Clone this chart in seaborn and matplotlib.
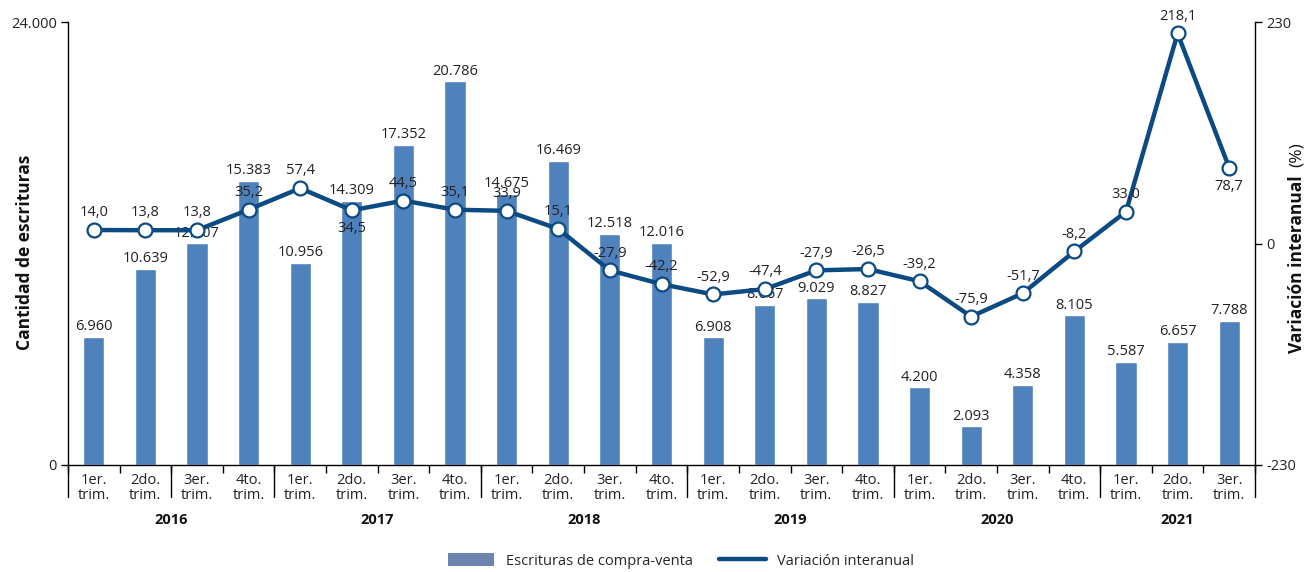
import matplotlib
matplotlib.use('Agg')
import matplotlib.pyplot as plt
import matplotlib.transforms as mtransforms
from matplotlib.lines import Line2D
from matplotlib.patches import Patch
import seaborn as sns
import pandas as pd
import numpy as np

# ---- data ----
quarters = ["1er.\ntrim.", "2do.\ntrim.", "3er.\ntrim.", "4to.\ntrim."] * 5 + ["1er.\ntrim.", "2do.\ntrim.", "3er.\ntrim."]
years = ["2016", "2017", "2018", "2019", "2020", "2021"]
year_sizes = [4, 4, 4, 4, 4, 3]
escrituras = [6960, 10639, 12007, 15383, 10956, 14309, 17352, 20786, 14675, 16469, 12518, 12016,
              6908, 8667, 9029, 8827, 4200, 2093, 4358, 8105, 5587, 6657, 7788]
variacion = [14.0, 13.8, 13.8, 35.2, 57.4, 34.5, 44.5, 35.1, 33.9, 15.1, -27.9, -42.2,
             -52.9, -47.4, -27.9, -26.5, -39.2, -75.9, -51.7, -8.2, 33.0, 218.1, 78.7]
# label placement for the line values (style)
line_label_side = ['above'] * 23
line_label_side[5] = 'below'
line_label_side[22] = 'below'
# separator boundaries drawn long (style, mimics the original category axis)
long_separators = [0, 2, 4, 8, 12, 16, 20, 23]

bar_color = '#4f81bd'
line_color = '#0b4a82'
legend_bar_color = '#6e83ae'

sns.set_theme(style='white')
plt.rcParams['font.family'] = ['Open Sans', 'DejaVu Sans']
plt.rcParams['font.size'] = 10

n = len(escrituras)
df = pd.DataFrame({'pos': np.arange(n), 'escrituras': escrituras, 'variacion': variacion})

W, H = 1306, 572
fig = plt.figure(figsize=(W / 100, H / 100), dpi=100)
ax = fig.add_axes([68 / W, 1 - 465 / H, (1255 - 68) / W, 443 / H])

sns.barplot(data=df, x='pos', y='escrituras', color=bar_color, saturation=1, width=0.41, ax=ax)
ax.set_xlim(-0.5, n - 0.5)
ax.set_ylim(0, 24000)
ax.set_xlabel('')
ax.set_ylabel('')

ax2 = ax.twinx()
sns.lineplot(data=df, x='pos', y='variacion', ax=ax2, color=line_color, lw=3.2,
             marker='o', markersize=10, markerfacecolor='white', markeredgecolor=line_color,
             markeredgewidth=1.6, zorder=3)
ax2.set_ylim(-230, 230)
ax2.set_xlim(-0.5, n - 0.5)
ax2.set_xlabel('')
ax2.set_ylabel('')

# spines
for a in (ax, ax2):
    for s in a.spines.values():
        s.set_color('black')
        s.set_linewidth(1)
    a.spines['top'].set_visible(False)
ax.spines['right'].set_visible(False)
ax2.spines['left'].set_visible(False)
ax2.spines['bottom'].set_visible(False)

# y ticks
ax.set_yticks([0, 24000])
ax.set_yticklabels(['0', '24.000'], fontsize=10.5, color='#222222')
ax.tick_params(axis='y', which='major', direction='out', length=5, width=1, color='black', left=True, pad=3)
ax2.set_yticks([-230, 0, 230])
ax2.set_yticklabels(['-230', '0', '230'], fontsize=10.5, color='#222222')
ax2.tick_params(axis='y', which='major', direction='out', length=5, width=1, color='black', right=True, pad=3)

# x ticks
ax.set_xticks(np.arange(n))
ax.set_xticklabels(quarters, fontsize=10.5, color='#222222', linespacing=0.95)
ax.tick_params(axis='x', which='major', length=0, pad=6)
ax.set_xticks(np.arange(n + 1) - 0.5, minor=True)
ax.tick_params(axis='x', which='minor', direction='out', length=6, width=1, color='black', bottom=True)

trans = mtransforms.blended_transform_factory(ax.transData, ax.transAxes)
for k in long_separators:
    ax.plot([k - 0.5, k - 0.5], [0, -32 / 443], transform=trans, color='black', lw=1, clip_on=False)

start = 0
for yr, sz in zip(years, year_sizes):
    center = start - 0.5 + sz / 2
    ax.text(center, -(520 - 465) / 443, yr, transform=trans, ha='center', va='center',
            fontsize=10.5, fontweight='bold', color='#111111')
    start += sz

# bar labels
for i, v in enumerate(escrituras):
    ax.annotate(f"{v:,}".replace(',', '.'), (i, v), xytext=(0, 2), textcoords='offset points',
                ha='center', va='bottom', fontsize=10.5, color='#222222')

# line labels
for i, (v, side) in enumerate(zip(variacion, line_label_side)):
    txt = f"{v:.1f}".replace('.', ',')
    if side == 'above':
        ax2.annotate(txt, (i, v), xytext=(0, 7), textcoords='offset points',
                     ha='center', va='bottom', fontsize=10.5, color='#222222', zorder=5)
    else:
        ax2.annotate(txt, (i, v), xytext=(0, -8), textcoords='offset points',
                     ha='center', va='top', fontsize=10.5, color='#222222', zorder=5)

# axis titles
fig.text(25 / W, 1 - 252 / H, 'Cantidad de escrituras', rotation=90, ha='center', va='center',
         fontsize=12.5, fontweight='bold', color='#111111')
fig.text(1297 / W, 1 - 264 / H, 'Variación interanual', rotation=90, ha='center', va='center',
         fontsize=12.5, fontweight='bold', color='#111111')
fig.text(1297 / W, 1 - 155 / H, '(%)', rotation=90, ha='center', va='center',
         fontsize=12.5, color='#111111')

# legend
handles = [Patch(facecolor=legend_bar_color, edgecolor='none'),
           Line2D([0], [0], color=line_color, lw=3.2)]
fig.legend(handles, ['Escrituras de compra-venta', 'Variación interanual'], loc='center',
           bbox_to_anchor=(681 / W, 1 - 561 / H), ncol=2, frameon=False, fontsize=10.5,
           handlelength=3.2, handleheight=1.0, columnspacing=1.8, handletextpad=0.8)

fig.savefig('out.png', dpi=100)
